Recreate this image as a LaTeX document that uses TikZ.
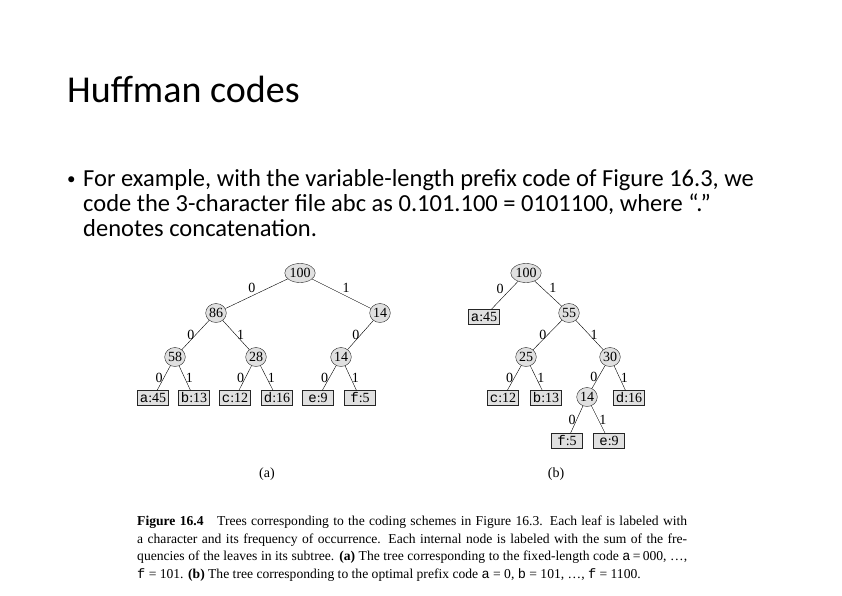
\documentclass[tikz,border=0pt]{standalone}
\usepackage{fontspec}
\setmainfont{Liberation Serif}
\setmonofont{Liberation Mono}
\newfontfamily\slidefont{Carlito}
\usetikzlibrary{shapes.geometric}

\begin{document}
\begin{tikzpicture}[x=1pt, y=-1pt,
        inode/.style={ellipse, draw=black!85, fill=black!12, inner sep=0.3pt, minimum width=20pt, minimum height=19pt, font=\fontsize{14}{14}\selectfont},
        leaf/.style={rectangle, draw=black!85, fill=black!12, inner sep=1pt, minimum width=31pt, minimum height=15pt, font=\fontsize{14}{14}\selectfont},
        bit/.style={font=\fontsize{14}{14}\selectfont, inner sep=1pt},
        slidetext/.style={anchor=base west, inner sep=0, font=\slidefont\fontsize{24.5}{25}\selectfont}]
        % page
        \useasboundingbox (0,0) rectangle (842,595);
        \fill[white] (0,0) rectangle (842,595);

        % title and bullet
        \node[anchor=base west, inner sep=0, font=\slidefont\fontsize{38}{46}\selectfont] (title) at (67,102) {Huffman codes};
        \node[anchor=base west, inner sep=0, font=\slidefont\fontsize{17}{20}\selectfont] (dot) at (67,184) {•};
        \node[slidetext] (line1) at (83,186) {For example, with the variable-length prefix code of Figure 16.3, we};
        \node[slidetext] (line2) at (83,211) {code the 3-character file abc as 0.101.100 = 0101100, where “.”};
        \node[slidetext] (line3) at (83,236) {denotes concatenation.};

        % tree (a)
        \node[inode] (a100) at (300,273) {100};
        \node[inode] (a86) at (216,313) {86};
        \node[inode] (a14r) at (380,313) {14};
        \node[inode] (a58) at (175,357) {58};
        \node[inode] (a28) at (256,357) {28};
        \node[inode] (a14) at (341,357) {14};
        \node[leaf] (aa) at (153,398) {\texttt{a}:45};
        \node[leaf] (ab) at (194,398) {\texttt{b}:13};
        \node[leaf] (ac) at (235,398) {\texttt{c}:12};
        \node[leaf] (ad) at (277,398) {\texttt{d}:16};
        \node[leaf] (ae) at (318,398) {\texttt{e}:9};
        \node[leaf] (af) at (360,398) {\texttt{f}:5};

        \draw (a100) -- (a86) node[midway, above left, bit] {0};
        \draw (a100) -- (a14r) node[midway, above right, bit] {1};
        \draw (a86) -- (a58) node[midway, left, bit] {0};
        \draw (a86) -- (a28) node[midway, right, bit] {1};
        \draw (a14r) -- (a14) node[midway, left, bit] {0};
        \draw (a58) -- (aa) node[midway, left, bit] {0};
        \draw (a58) -- (ab) node[midway, right, bit] {1};
        \draw (a28) -- (ac) node[midway, left, bit] {0};
        \draw (a28) -- (ad) node[midway, right, bit] {1};
        \draw (a14) -- (ae) node[midway, left, bit] {0};
        \draw (a14) -- (af) node[midway, right, bit] {1};

        % tree (b)
        \node[inode] (b100) at (526,273) {100};
        \node[leaf] (ba) at (484,317) {\texttt{a}:45};
        \node[inode] (b55) at (569,313) {55};
        \node[inode] (b25) at (526,357) {25};
        \node[inode] (b30) at (610,357) {30};
        \node[leaf] (bc) at (503,398) {\texttt{c}:12};
        \node[leaf] (bb) at (546,398) {\texttt{b}:13};
        \node[inode] (b14) at (587,397) {14};
        \node[leaf] (bd) at (629,398) {\texttt{d}:16};
        \node[leaf] (bf) at (567,441) {\texttt{f}:5};
        \node[leaf] (be) at (609,441) {\texttt{e}:9};

        \draw (b100) -- (ba) node[midway, above left, bit] {0};
        \draw (b100) -- (b55) node[midway, above right, bit] {1};
        \draw (b55) -- (b25) node[midway, left, bit] {0};
        \draw (b55) -- (b30) node[midway, right, bit] {1};
        \draw (b25) -- (bc) node[midway, left, bit] {0};
        \draw (b25) -- (bb) node[midway, right, bit] {1};
        \draw (b30) -- (b14) node[midway, left, bit] {0};
        \draw (b30) -- (bd) node[midway, right, bit] {1};
        \draw (b14) -- (bf) node[midway, left, bit] {0};
        \draw (b14) -- (be) node[midway, right, bit] {1};

        % sub-labels and caption
        \node[font=\fontsize{14}{14}\selectfont] (laba) at (267,474) {(a)};
        \node[font=\fontsize{14}{14}\selectfont] (labb) at (556,474) {(b)};
        \node[anchor=north west, inner sep=0, text width=550pt, align=justify, font=\fontsize{13.6}{17.5}\selectfont] (caption) at (137,516)
            {\textbf{Figure 16.4}\quad Trees corresponding to the coding schemes in Figure 16.3. Each leaf is labeled with\linebreak
            a character and its frequency of occurrence. Each internal node is labeled with the sum of the fre-\linebreak
            quencies of the leaves in its subtree. \textbf{(a)} The tree corresponding to the fixed-length code \texttt{a}\,=\,000, \dots,\linebreak
            \texttt{f} = 101. \textbf{(b)} The tree corresponding to the optimal prefix code \texttt{a} = 0, \texttt{b} = 101, \dots, \texttt{f} = 1100.};
    \end{tikzpicture}
\end{document}
